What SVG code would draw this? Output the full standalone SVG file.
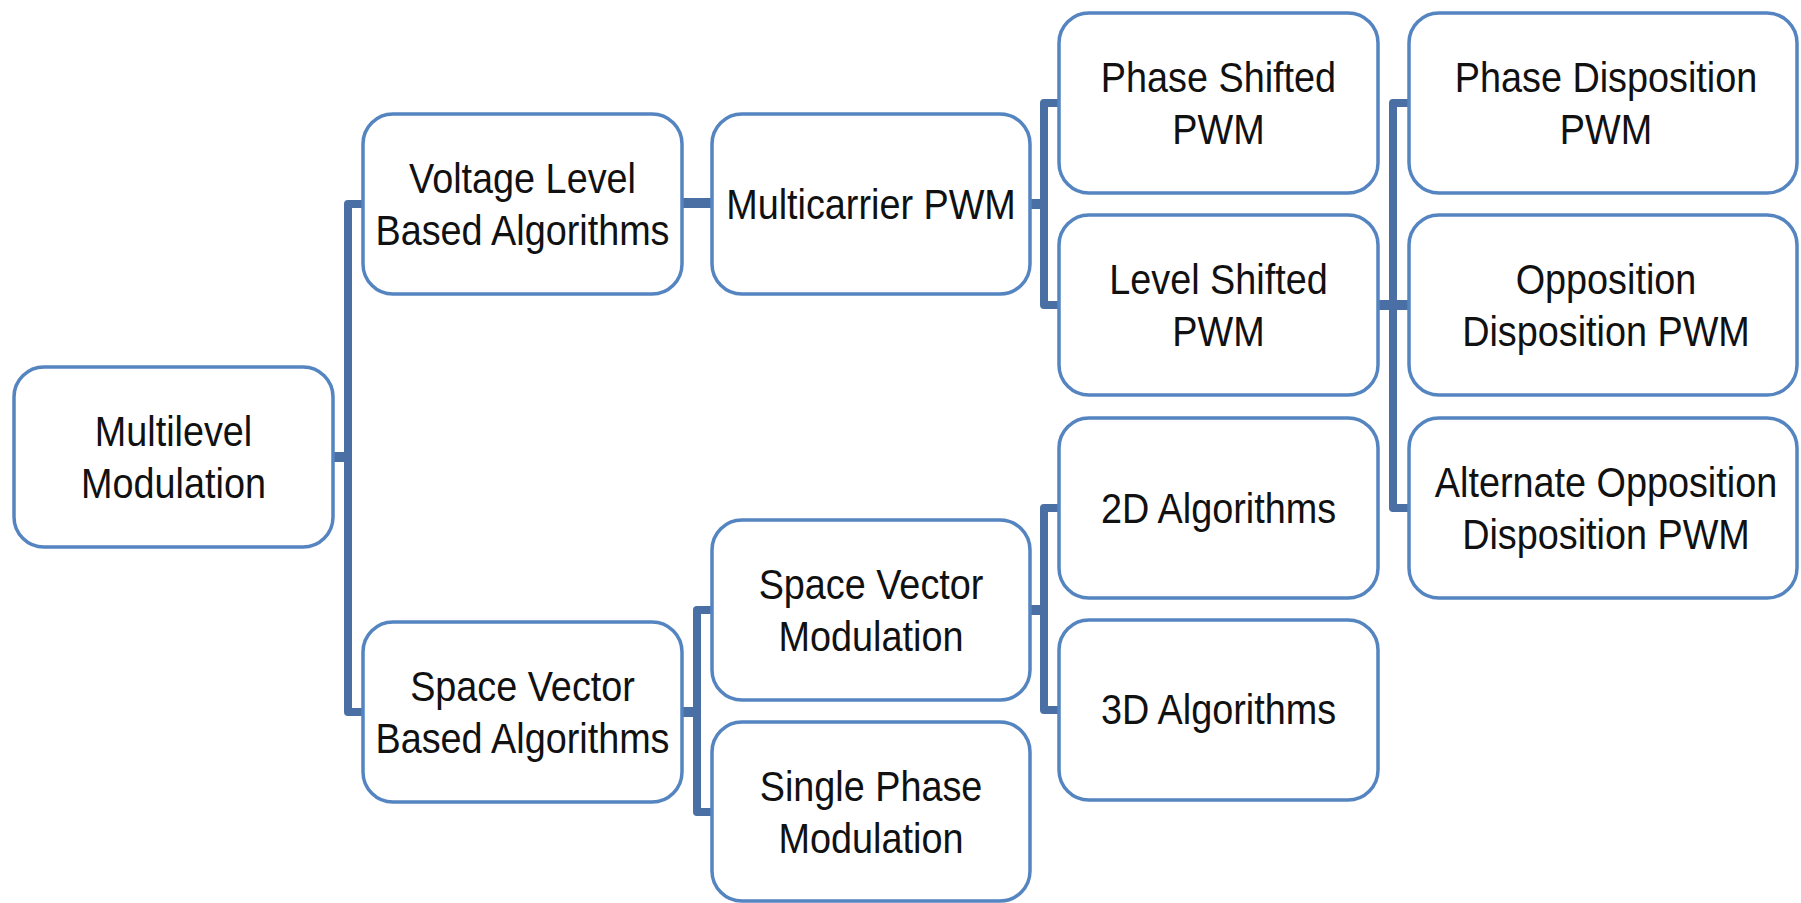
<svg xmlns="http://www.w3.org/2000/svg" width="1801" height="903" viewBox="0 0 1801 903">
<style>
.box{fill:#ffffff;stroke:#5585c1;stroke-width:3.5}
.con{fill:none;stroke:#4a6fa5;stroke-width:8;stroke-linejoin:round}
.thick{stroke-width:10}
.t{font-family:"Liberation Sans",Arial,sans-serif;font-size:42px;fill:#111;text-anchor:middle}
</style>
<rect width="1801" height="903" fill="#ffffff"/>
<g id="connectors">
<path class="con thick" d="M333 457 H348"/>
<path class="con" d="M363 204 H348 V712 H363"/>
<path class="con thick" d="M682 203 H712"/>
<path class="con thick" d="M1030 204 H1044"/>
<path class="con" d="M1059 103 H1044 V305 H1059"/>
<path class="con thick" d="M1378 305 H1409"/>
<path class="con" d="M1409 103 H1393 V508 H1409"/>
<path class="con thick" d="M682 712 H697"/>
<path class="con" d="M712 610 H697 V812 H712"/>
<path class="con thick" d="M1030 610 H1044"/>
<path class="con" d="M1059 508 H1044 V710 H1059"/>
</g>
<g id="n-multilevel">
<rect class="box" x="14" y="367" width="319" height="180" rx="30"/>
<text class="t" transform="translate(173.5,0) scale(0.9,1)"><tspan x="0" y="446">Multilevel</tspan><tspan x="0" y="498">Modulation</tspan></text>
</g>
<g id="n-voltage">
<rect class="box" x="363" y="114" width="319" height="180" rx="30"/>
<text class="t" transform="translate(522.5,0) scale(0.9,1)"><tspan x="0" y="193">Voltage Level</tspan><tspan x="0" y="245">Based Algorithms</tspan></text>
</g>
<g id="n-svba">
<rect class="box" x="363" y="622" width="319" height="180" rx="30"/>
<text class="t" transform="translate(522.5,0) scale(0.9,1)"><tspan x="0" y="701">Space Vector</tspan><tspan x="0" y="753">Based Algorithms</tspan></text>
</g>
<g id="n-multicarrier">
<rect class="box" x="712" y="114" width="318" height="180" rx="30"/>
<text class="t" transform="translate(871,0) scale(0.9,1)"><tspan x="0" y="219">Multicarrier PWM</tspan></text>
</g>
<g id="n-svm">
<rect class="box" x="712" y="520" width="318" height="180" rx="30"/>
<text class="t" transform="translate(871,0) scale(0.9,1)"><tspan x="0" y="599">Space Vector</tspan><tspan x="0" y="651">Modulation</tspan></text>
</g>
<g id="n-single">
<rect class="box" x="712" y="722" width="318" height="179" rx="30"/>
<text class="t" transform="translate(871,0) scale(0.9,1)"><tspan x="0" y="801">Single Phase</tspan><tspan x="0" y="853">Modulation</tspan></text>
</g>
<g id="n-phase-shifted">
<rect class="box" x="1059" y="13" width="319" height="180" rx="30"/>
<text class="t" transform="translate(1218.5,0) scale(0.9,1)"><tspan x="0" y="92">Phase Shifted</tspan><tspan x="0" y="144">PWM</tspan></text>
</g>
<g id="n-level-shifted">
<rect class="box" x="1059" y="215" width="319" height="180" rx="30"/>
<text class="t" transform="translate(1218.5,0) scale(0.9,1)"><tspan x="0" y="294">Level Shifted</tspan><tspan x="0" y="346">PWM</tspan></text>
</g>
<g id="n-2d">
<rect class="box" x="1059" y="418" width="319" height="180" rx="30"/>
<text class="t" transform="translate(1218.5,0) scale(0.9,1)"><tspan x="0" y="523">2D Algorithms</tspan></text>
</g>
<g id="n-3d">
<rect class="box" x="1059" y="620" width="319" height="180" rx="30"/>
<text class="t" transform="translate(1218.5,0) scale(0.9,1)"><tspan x="0" y="724">3D Algorithms</tspan></text>
</g>
<g id="n-pd">
<rect class="box" x="1409" y="13" width="388" height="180" rx="30"/>
<text class="t" transform="translate(1606,0) scale(0.9,1)"><tspan x="0" y="92">Phase Disposition</tspan><tspan x="0" y="144">PWM</tspan></text>
</g>
<g id="n-od">
<rect class="box" x="1409" y="215" width="388" height="180" rx="30"/>
<text class="t" transform="translate(1606,0) scale(0.9,1)"><tspan x="0" y="294">Opposition</tspan><tspan x="0" y="346">Disposition PWM</tspan></text>
</g>
<g id="n-aod">
<rect class="box" x="1409" y="418" width="388" height="180" rx="30"/>
<text class="t" transform="translate(1606,0) scale(0.9,1)"><tspan x="0" y="497">Alternate Opposition</tspan><tspan x="0" y="549">Disposition PWM</tspan></text>
</g>
</svg>
